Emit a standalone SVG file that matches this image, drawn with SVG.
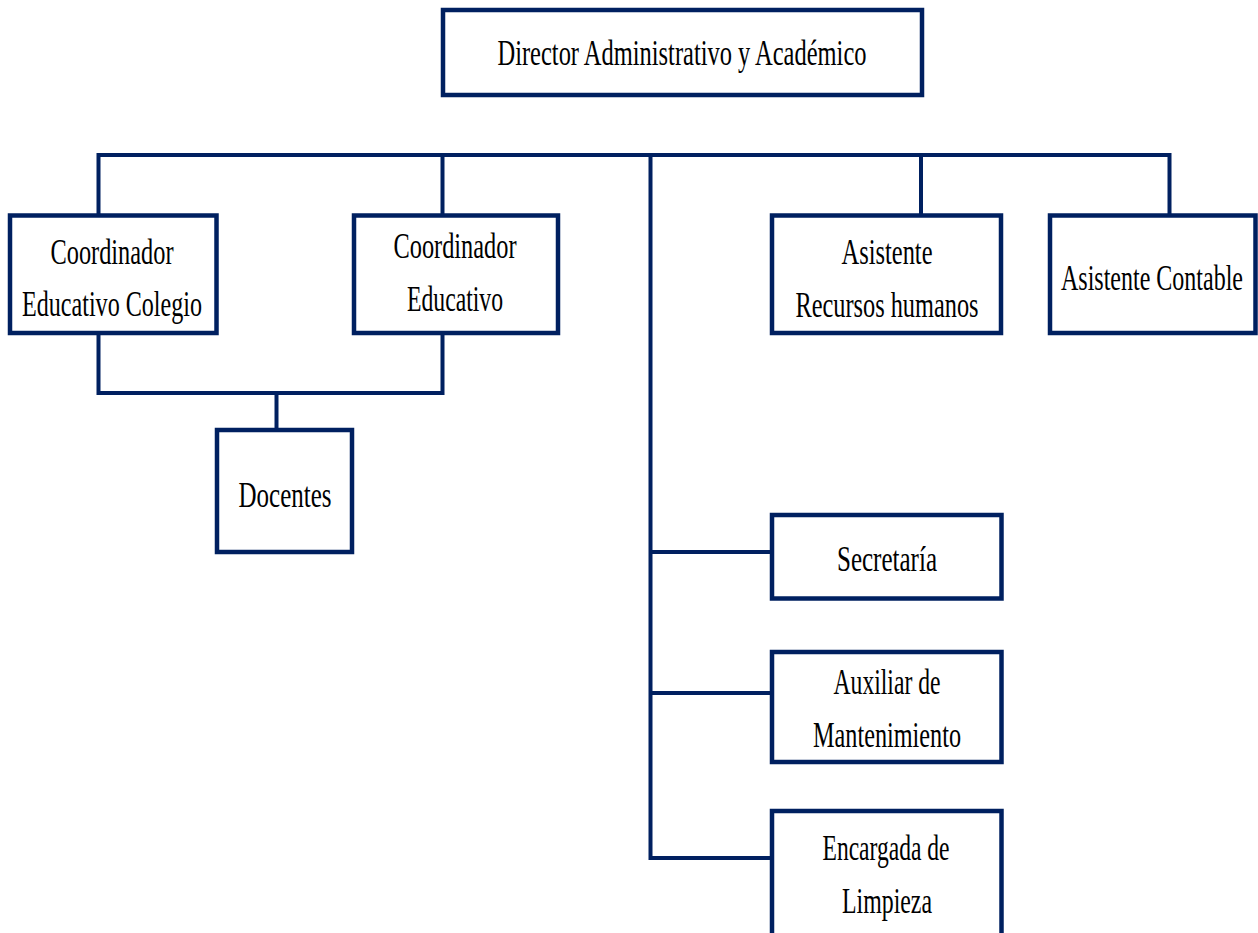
<svg xmlns="http://www.w3.org/2000/svg" width="1258" height="933" viewBox="0 0 1258 933">
<style>
.box{fill:#fff;stroke:#002060;stroke-width:4.5}
.con{fill:none;stroke:#002060;stroke-width:4}
.t{font-family:'Liberation Serif','Times New Roman',serif;font-size:36px;fill:#000;text-anchor:middle}
</style>
<rect width="1258" height="933" fill="#fff"/>
<g id="connectors">
<path class="con" d="M98.5,215 V155 H1169.5 V215"/>
<path class="con" d="M442.5,155 V215"/>
<path class="con" d="M921,155 V215"/>
<path class="con" d="M650.5,155 V858 H772"/>
<path class="con" d="M650.5,552 H772"/>
<path class="con" d="M650.5,693 H772"/>
<path class="con" d="M98.5,333 V393 H442.5 V333"/>
<path class="con" d="M276.5,393 V430"/>
</g>
<g id="director">
<rect class="box" x="443" y="10" width="479" height="85"/>
<text class="t" x="682" y="65" textLength="369" lengthAdjust="spacingAndGlyphs">Director Administrativo y Académico</text>
</g>
<g id="coord-colegio">
<rect class="box" x="10" y="215.5" width="206.5" height="117.5"/>
<text class="t" x="112" y="264" textLength="123" lengthAdjust="spacingAndGlyphs">Coordinador</text>
<text class="t" x="112" y="316" textLength="180" lengthAdjust="spacingAndGlyphs">Educativo Colegio</text>
</g>
<g id="coord-educativo">
<rect class="box" x="354" y="215.5" width="204" height="117.5"/>
<text class="t" x="455" y="258" textLength="123" lengthAdjust="spacingAndGlyphs">Coordinador</text>
<text class="t" x="455" y="311" textLength="96" lengthAdjust="spacingAndGlyphs">Educativo</text>
</g>
<g id="docentes">
<rect class="box" x="217" y="430" width="135" height="122"/>
<text class="t" x="285" y="507" textLength="93" lengthAdjust="spacingAndGlyphs">Docentes</text>
</g>
<g id="asistente-rh">
<rect class="box" x="772" y="215.5" width="229" height="117.5"/>
<text class="t" x="887" y="264" textLength="91" lengthAdjust="spacingAndGlyphs">Asistente</text>
<text class="t" x="887" y="317" textLength="183" lengthAdjust="spacingAndGlyphs">Recursos humanos</text>
</g>
<g id="asistente-contable">
<rect class="box" x="1050" y="215.5" width="205.5" height="117.5"/>
<text class="t" x="1152" y="290" textLength="182" lengthAdjust="spacingAndGlyphs">Asistente Contable</text>
</g>
<g id="secretaria">
<rect class="box" x="772" y="515" width="229.5" height="83.5"/>
<text class="t" x="887" y="571" textLength="100" lengthAdjust="spacingAndGlyphs">Secretaría</text>
</g>
<g id="auxiliar">
<rect class="box" x="772" y="652" width="229.5" height="110"/>
<text class="t" x="887" y="694" textLength="107" lengthAdjust="spacingAndGlyphs">Auxiliar de</text>
<text class="t" x="887" y="747" textLength="148" lengthAdjust="spacingAndGlyphs">Mantenimiento</text>
</g>
<g id="encargada">
<rect class="box" x="772" y="811" width="229.5" height="140"/>
<text class="t" x="886" y="860" textLength="127" lengthAdjust="spacingAndGlyphs">Encargada de</text>
<text class="t" x="887" y="913" textLength="90" lengthAdjust="spacingAndGlyphs">Limpieza</text>
</g>
</svg>
